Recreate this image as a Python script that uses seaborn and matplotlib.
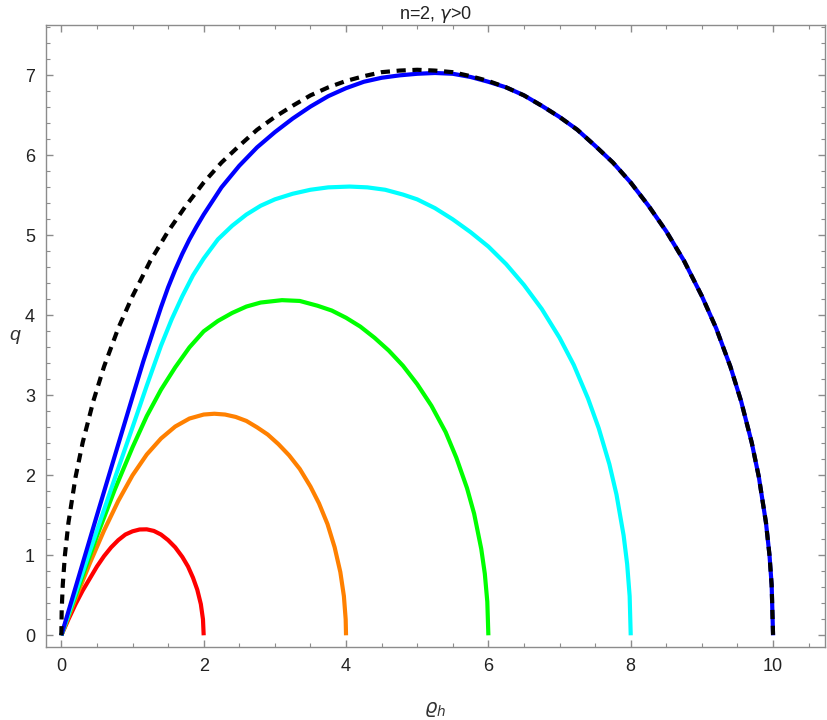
import matplotlib
matplotlib.use("Agg")
import matplotlib.pyplot as plt
import seaborn as sns
from matplotlib.ticker import MultipleLocator

# curves (rho_h on x, q on y)
red_x = [0, 0.1, 0.2, 0.3, 0.4, 0.5, 0.6, 0.7, 0.8, 0.9, 1.0, 1.1, 1.2, 1.3, 1.4, 1.5, 1.6, 1.7, 1.78, 1.85, 1.91, 1.96, 1.99, 2.0]
red_q = [0, 0.2, 0.39, 0.56, 0.71, 0.86, 0.99, 1.1, 1.19, 1.26, 1.3, 1.323, 1.325, 1.305, 1.26, 1.19, 1.1, 0.98, 0.86, 0.72, 0.57, 0.39, 0.2, 0]

orange_x = [0, 0.2, 0.4, 0.6, 0.8, 1.0, 1.2, 1.4, 1.6, 1.8, 2.0, 2.15, 2.3, 2.45, 2.6, 2.75, 2.9, 3.05, 3.2, 3.35, 3.5, 3.62, 3.74, 3.84, 3.92, 3.97, 3.995, 4.0]
orange_q = [0, 0.46, 0.9, 1.31, 1.68, 2.0, 2.26, 2.46, 2.61, 2.71, 2.76, 2.77, 2.76, 2.73, 2.68, 2.6, 2.51, 2.39, 2.25, 2.08, 1.86, 1.65, 1.39, 1.1, 0.79, 0.49, 0.2, 0]

green_x = [0, 0.25, 0.5, 0.75, 1.0, 1.2, 1.4, 1.6, 1.8, 2.0, 2.2, 2.4, 2.6, 2.8, 3.1, 3.35, 3.6, 3.8, 4.0, 4.2, 4.4, 4.6, 4.8, 5.0, 5.2, 5.4, 5.55, 5.7, 5.8, 5.9, 5.95, 5.985, 6.0]
green_q = [0, 0.62, 1.24, 1.82, 2.35, 2.74, 3.07, 3.35, 3.6, 3.8, 3.93, 4.03, 4.11, 4.16, 4.19, 4.18, 4.12, 4.06, 3.97, 3.86, 3.72, 3.56, 3.37, 3.14, 2.87, 2.54, 2.22, 1.84, 1.52, 1.08, 0.77, 0.42, 0]

cyan_x = [0, 0.25, 0.5, 0.75, 1.0, 1.2, 1.4, 1.55, 1.7, 1.85, 2.0, 2.2, 2.4, 2.6, 2.8, 3.0, 3.25, 3.5, 3.75, 4.05, 4.3, 4.55, 4.8, 5.0, 5.25, 5.5, 5.75, 6.0, 6.25, 6.5, 6.75, 7.0, 7.2, 7.4, 7.55, 7.7, 7.8, 7.9, 7.95, 7.985, 8.0]
cyan_q = [0, 0.66, 1.31, 1.96, 2.6, 3.12, 3.62, 3.95, 4.24, 4.5, 4.71, 4.95, 5.12, 5.26, 5.37, 5.45, 5.52, 5.57, 5.6, 5.61, 5.6, 5.57, 5.51, 5.45, 5.34, 5.2, 5.04, 4.86, 4.64, 4.38, 4.08, 3.72, 3.38, 2.96, 2.59, 2.14, 1.76, 1.25, 0.89, 0.49, 0]

blue_x = [0, 0.25, 0.5, 0.75, 1.0, 1.15, 1.3, 1.4, 1.5, 1.6, 1.7, 1.8, 1.9, 2.0, 2.25, 2.5, 2.75, 3.0, 3.25, 3.5, 3.75, 4.0, 4.25, 4.5, 4.75, 5.0, 5.25, 5.5, 5.75, 6.0,
          6.25, 6.5, 6.75, 7.0, 7.25, 7.5, 7.75, 8.0, 8.25, 8.5, 8.75, 9.0, 9.2, 9.4, 9.55, 9.7, 9.8, 9.9, 9.95, 9.98, 10.0]
blue_q = [0, 0.75, 1.5, 2.24, 2.98, 3.42, 3.83, 4.1, 4.35, 4.57, 4.77, 4.95, 5.11, 5.26, 5.6, 5.87, 6.1, 6.29, 6.46, 6.61, 6.74, 6.84, 6.92, 6.97, 7.0, 7.02, 7.03, 7.02, 6.98, 6.92,
          6.85, 6.75, 6.62, 6.48, 6.32, 6.12, 5.91, 5.66, 5.37, 5.05, 4.68, 4.24, 3.84, 3.36, 2.93, 2.41, 1.98, 1.41, 1.0, 0.63, 0]

limit_x = [0, 0.005, 0.02, 0.05, 0.1, 0.2, 0.3, 0.45, 0.6, 0.8, 1.0, 1.25, 1.5, 1.75, 2.0, 2.25, 2.5, 2.75, 3.0, 3.25, 3.5, 3.75, 4.0, 4.25, 4.5, 4.75, 5.0,
           5.25, 5.5, 5.75, 6.0, 6.25, 6.5, 6.75, 7.0, 7.25, 7.5, 7.75, 8.0, 8.25, 8.5, 8.75, 9.0, 9.2, 9.4, 9.55, 9.7, 9.8, 9.9, 9.95, 9.98, 10.0]
limit_q = [0, 0.32, 0.63, 1.0, 1.41, 1.98, 2.41, 2.93, 3.36, 3.84, 4.24, 4.68, 5.05, 5.37, 5.66, 5.91, 6.12, 6.32, 6.48, 6.62, 6.75, 6.85, 6.93, 6.99, 7.04, 7.06, 7.07,
           7.06, 7.04, 6.99, 6.93, 6.85, 6.75, 6.62, 6.48, 6.32, 6.12, 5.91, 5.66, 5.37, 5.05, 4.68, 4.24, 3.84, 3.36, 2.93, 2.41, 1.98, 1.41, 1.0, 0.63, 0]

sns.set_style("white")
plt.rcParams['font.family'] = ['Liberation Sans', 'DejaVu Sans']
plt.rcParams['mathtext.fontset'] = 'dejavusans'

fig = plt.figure(figsize=(8.28, 7.2), dpi=100)
ax = fig.add_axes([0.0556, 0.1014, 0.9408, 0.8639])

curves = [
    (red_x, red_q, '#ff0000'),
    (orange_x, orange_q, '#ff8000'),
    (green_x, green_q, '#00ff00'),
    (cyan_x, cyan_q, '#00ffff'),
    (blue_x, blue_q, '#0000ff'),
]
for xs, qs, col in curves:
    sns.lineplot(x=xs, y=qs, color=col, linewidth=3, sort=False, estimator=None,
                 ax=ax, solid_capstyle='butt', solid_joinstyle='round')

# black dashed limiting curve on top
sns.lineplot(x=limit_x, y=limit_q, color='black', linewidth=3, sort=False,
             estimator=None, ax=ax)
ax.lines[-1].set_dashes([2.2, 1.6])
ax.lines[-1].set_dash_capstyle('butt')

ax.set_xlim(-0.215, 10.73)
ax.set_ylim(-0.146, 7.63)

ax.xaxis.set_major_locator(MultipleLocator(2))
ax.xaxis.set_minor_locator(MultipleLocator(0.5))
ax.yaxis.set_major_locator(MultipleLocator(1))
ax.yaxis.set_minor_locator(MultipleLocator(0.2))

frame = '#8c8c8c'
for sp in ax.spines.values():
    sp.set_color(frame)
    sp.set_linewidth(1.0)
ax.tick_params(which='both', direction='in', bottom=True, left=True, top=True, right=True,
               color=frame, labelsize=13, labelcolor='#222222')
ax.tick_params(which='major', length=5, width=1, pad=8)
ax.tick_params(which='minor', length=3, width=0.8)

ax.set_title(r'n=2, $\gamma$>0', fontsize=13, pad=4, color='#222222')
ax.set_xlabel(r'$\varrho_h$', fontsize=14, color='#333333')
ax.xaxis.set_label_coords(0.5, -0.085)
ax.set_ylabel('q', fontsize=14, style='italic', rotation=0, color='#333333',
              ha='center', va='center')
ax.yaxis.set_label_coords(-0.04, 0.5)

fig.savefig('out.png', dpi=100)
